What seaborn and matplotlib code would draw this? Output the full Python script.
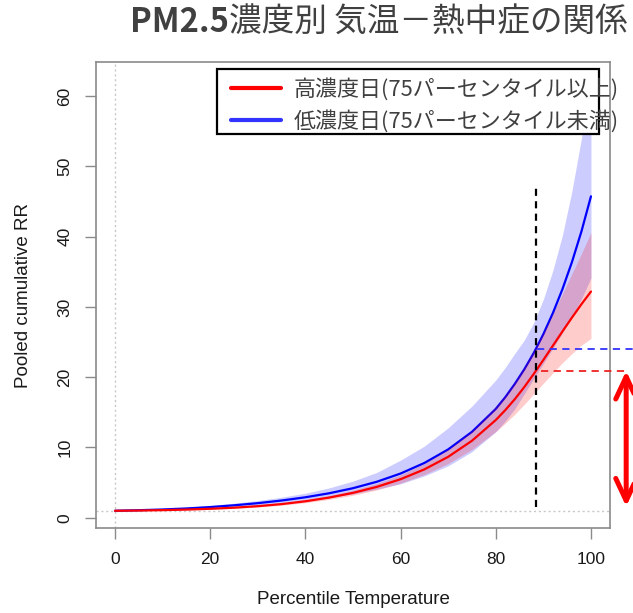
import matplotlib
matplotlib.use("Agg")
import matplotlib.pyplot as plt
from matplotlib.patches import Rectangle
from matplotlib.lines import Line2D
import pandas as pd
import seaborn as sns

# Percentile of daily temperature
pct = [0, 5, 10, 15, 20, 25, 30, 35, 40, 45, 50, 55, 60, 65, 70, 75, 80,
       82, 84, 86, 88, 90, 92, 94, 96, 98, 100]

# High PM2.5 days (>= 75th percentile): pooled cumulative RR and 95% CI
high_rr = [1.00, 1.031, 1.085, 1.166, 1.279, 1.435, 1.650, 1.944, 2.346,
           2.874, 3.544, 4.397, 5.489, 6.886, 8.674, 10.96, 13.91, 15.32,
           16.88, 18.61, 20.49, 22.46, 24.49, 26.51, 28.48, 30.39, 32.19]
high_lo = [1.00, 1.016, 1.053, 1.115, 1.205, 1.338, 1.526, 1.786, 2.144,
           2.613, 3.207, 3.963, 4.927, 6.156, 7.724, 9.721, 12.26, 13.45,
           14.73, 16.15, 17.64, 19.14, 20.62, 22.05, 23.36, 24.56, 25.53]
high_hi = [1.00, 1.047, 1.118, 1.220, 1.358, 1.539, 1.784, 2.116, 2.567,
           3.161, 3.917, 4.879, 6.115, 7.702, 9.741, 12.36, 15.78, 17.45,
           19.34, 21.45, 23.81, 26.36, 29.09, 31.87, 34.72, 37.60, 40.59]

# Low PM2.5 days (< 75th percentile)
low_rr = [1.00, 1.074, 1.179, 1.324, 1.522, 1.774, 2.079, 2.455, 2.915,
          3.487, 4.208, 5.124, 6.297, 7.799, 9.728, 12.23, 15.49, 17.16,
          19.05, 21.13, 23.47, 26.13, 29.13, 32.52, 36.38, 40.75, 45.74]
low_lo = [1.00, 1.032, 1.092, 1.182, 1.323, 1.516, 1.760, 2.063, 2.429,
          2.858, 3.394, 4.067, 4.836, 5.963, 7.392, 9.408, 12.24, 13.76,
          15.51, 17.65, 19.82, 21.96, 24.11, 26.31, 28.58, 31.15, 34.13]
low_hi = [1.00, 1.118, 1.273, 1.483, 1.750, 2.076, 2.455, 2.922, 3.498,
          4.254, 5.218, 6.456, 8.20, 10.2, 12.8, 15.9, 19.6, 21.4, 23.4,
          25.3, 27.8, 31.1, 35.2, 40.2, 46.5, 54.0, 62.4]

# Reference percentile and the RR of each group there
cutoff_pct = 88.4
low_at_cutoff = 24.0
high_at_cutoff = 20.9

x_ticks = [0, 20, 40, 60, 80, 100]
y_ticks = [0, 10, 20, 30, 40, 50, 60]

title_bold = "PM2.5"
title_rest = "濃度別 気温－熱中症の関係"
label_high = "高濃度日(75パーセンタイル以上)"
label_low = "低濃度日(75パーセンタイル未満)"
x_label = "Percentile Temperature"
y_label = "Pooled cumulative RR"

sns.set_theme(style="ticks")
plt.rcParams["font.family"] = ["Liberation Sans", "Noto Sans CJK JP", "DejaVu Sans"]

fig = plt.figure(figsize=(6.33, 6.13), dpi=100)
ax = fig.add_axes([96 / 633, 85 / 613, 514 / 633, 466 / 613])

df_high = pd.DataFrame({"pct": pct, "rr": high_rr, "lo": high_lo, "hi": high_hi})
df_low = pd.DataFrame({"pct": pct, "rr": low_rr, "lo": low_lo, "hi": low_hi})

ax.fill_between(df_low["pct"], df_low["lo"], df_low["hi"],
                color=(0, 0, 1, 0.2), linewidth=0, zorder=1)
sns.lineplot(data=df_low, x="pct", y="rr", color="#0000ff", lw=1.6,
             estimator=None, sort=False, ax=ax, zorder=2)
ax.fill_between(df_high["pct"], df_high["lo"], df_high["hi"],
                color=(1, 0, 0, 0.2), linewidth=0, zorder=3)
sns.lineplot(data=df_high, x="pct", y="rr", color="#ff0000", lw=1.6,
             estimator=None, sort=False, ax=ax, zorder=4)

# R-style limits: data range padded by 4 % on each side
x_lo, x_hi = min(pct), max(pct)
y_lo = min(high_lo + low_lo)
y_hi = max(high_hi + low_hi)
ax.set_xlim(x_lo - 0.04 * (x_hi - x_lo), x_hi + 0.04 * (x_hi - x_lo))
ax.set_ylim(y_lo - 0.04 * (y_hi - y_lo), y_hi + 0.04 * (y_hi - y_lo))

# light reference lines at RR = 1 and percentile 0
ax.axhline(1, color="#c8c8c8", lw=1, ls=(0, (1.5, 2)), zorder=0.5)
ax.axvline(0, color="#c8c8c8", lw=1, ls=(0, (1.5, 2)), zorder=0.5)

# cutoff marker and the two RR levels
ax.plot([cutoff_pct, cutoff_pct], [1.5, 47], color="black", lw=1.6,
        ls=(0, (3.2, 2.4)), zorder=6)
ax.plot([cutoff_pct + 0.2, 109.5], [low_at_cutoff, low_at_cutoff],
        color="#3333ff", lw=1.3, ls=(0, (4, 3)), clip_on=False, zorder=6)
ax.plot([cutoff_pct + 1.0, 107.8], [high_at_cutoff, high_at_cutoff],
        color="#ee2222", lw=1.3, ls=(0, (4, 3)), clip_on=False, zorder=6)
ax.annotate("", xy=(107.4, 1.6), xytext=(107.4, high_at_cutoff),
            arrowprops=dict(arrowstyle="<->,head_length=1.6,head_width=0.75",
                            color="#ff0000", lw=3.6, shrinkA=0, shrinkB=0,
                            mutation_scale=10),
            annotation_clip=False, zorder=7)

ax.set_xticks(x_ticks)
ax.set_yticks(y_ticks)
ax.tick_params(direction="out", length=8, width=1, color="#8a8a8a",
               labelsize=12.5, labelcolor="#1a1a1a", pad=9)
ax.tick_params(axis="y", labelrotation=90)
for lab in ax.get_yticklabels():
    lab.set_va("center")
for sp in ax.spines.values():
    sp.set_visible(True)
    sp.set_color("#8a8a8a")
    sp.set_linewidth(1.2)

ax.set_xlabel(x_label, fontsize=13.5, color="#1a1a1a")
ax.set_ylabel(y_label, fontsize=13.5, color="#1a1a1a")
ax.xaxis.set_label_coords(0.5, -0.136)
ax.yaxis.set_label_coords(-0.124, 0.5)

# legend with a frame box that the labels run slightly past
handles = [Line2D([], [], color="#ff0000", lw=3),
           Line2D([], [], color="#3333ff", lw=3)]
leg = ax.legend(handles, [label_high, label_low], loc="upper left",
                bbox_to_anchor=((231 - 96) / 514, (528 - 78) / 466),
                frameon=False, borderpad=0, borderaxespad=0,
                handlelength=2.3, handletextpad=0.55, labelspacing=0.42,
                prop={"family": ["Noto Sans CJK JP"], "size": 15.8})
for t in leg.get_texts():
    t.set_color("#404040")
leg.set_zorder(9)
leg.set_clip_on(False)
ax.add_patch(Rectangle(((216.7 - 96) / 514, (528 - 134) / 466),
                       (599 - 216.7) / 514, (134 - 69.3) / 466,
                       transform=ax.transAxes, facecolor="white",
                       edgecolor="black", lw=1.6, zorder=8, clip_on=False))

# title: bold "PM2.5" followed by the Japanese part
t_rest = fig.text(628 / 633, 1 - 23 / 613, title_rest, ha="right", va="center",
                  fontsize=23.5, color="#404040", family=["Noto Sans CJK JP"])
fig.canvas.draw()
bb = t_rest.get_window_extent()
fig.text(bb.x0 / fig.bbox.width, 1 - 23 / 613, title_bold, ha="right",
         va="center", fontsize=23.5, fontweight="bold", color="#404040",
         family=["Noto Sans CJK JP"])

fig.savefig("out.png", dpi=100)
